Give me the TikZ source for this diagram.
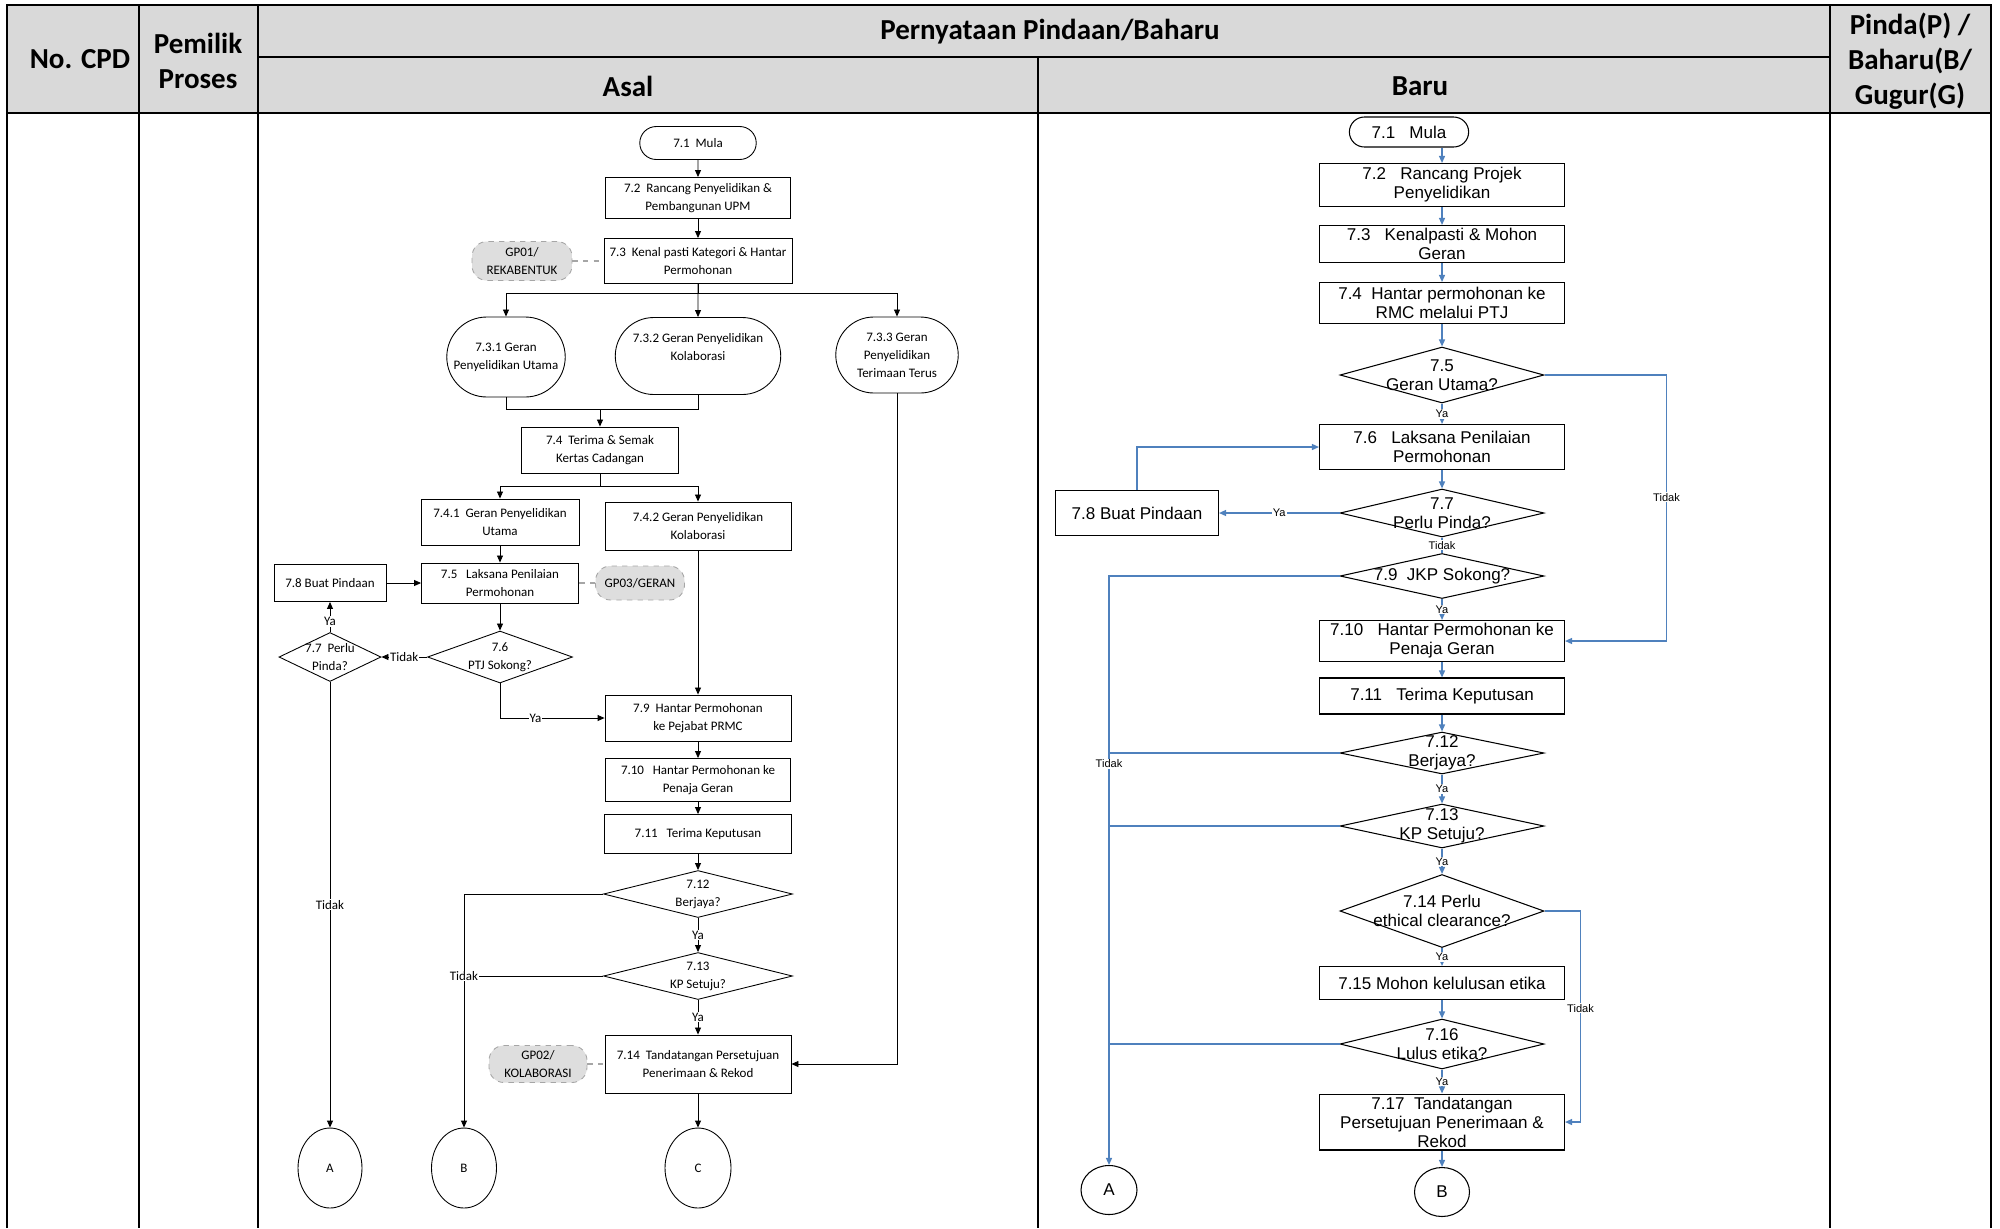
\documentclass[tikz,border=0pt]{standalone}
\usepackage{fontspec}
\usepackage{tikz}
\usetikzlibrary{arrows.meta,shapes.geometric,shapes.misc}

\newfontfamily\calfont{Carlito}
\newfontfamily\arialfont{Liberation Sans}
\newcommand{\hdrfont}{\calfont\bfseries\fontsize{16.5}{19.8}\selectfont}
\newcommand{\asalfont}{\calfont\fontsize{7.4}{10.2}\selectfont}
\newcommand{\barufont}{\arialfont\fontsize{9.7}{10.8}\selectfont}
\newcommand{\blabfont}{\arialfont\fontsize{6.3}{7}\selectfont}
\definecolor{hdrgray}{HTML}{D9D9D9}
\definecolor{gpgray}{HTML}{DEDEDE}
\definecolor{flowblue}{HTML}{4F81BD}

\begin{document}
\begin{tikzpicture}[x=0.02cm, y=-0.02cm, >={Triangle[length=4pt,width=3.4pt]},
  grid/.style={line width=0.055cm},
  hdr/.style={font=\hdrfont, align=center},
  abox/.style={draw, line width=0.5pt, font=\asalfont, align=center, inner sep=1pt},
  aterm/.style={abox, rounded rectangle},
  adec/.style={draw, diamond, line width=0.5pt, inner sep=0pt},
  atxt/.style={font=\asalfont, align=center},
  gpbox/.style={draw=gray!70, dashed, fill=gpgray, rounded corners=0.3cm, font=\asalfont, align=center, inner sep=1pt, line width=0.5pt},
  gpline/.style={draw=gray!70, dashed, line width=0.6pt},
  aconn/.style={ellipse, draw, line width=0.5pt, font=\asalfont, inner sep=0pt},
  aline/.style={line width=0.5pt},
  alab/.style={fill=white, font=\asalfont, inner sep=0.5pt},
  bbox/.style={draw, line width=0.6pt, font=\barufont, align=center, inner sep=1pt, minimum width=4.9cm},
  bdec/.style={draw, diamond, line width=0.6pt, inner sep=0pt, minimum width=4.08cm},
  btxt/.style={font=\barufont, align=center},
  bconn/.style={ellipse, draw, line width=0.6pt, font=\barufont, inner sep=0pt},
  bline/.style={color=flowblue, line width=0.8pt},
  blab/.style={fill=white, text=black, font=\blabfont, inner sep=0.5pt}]
  \useasboundingbox (0,0) rectangle (2000,1228);

  % table
  \fill[hdrgray] (7,5) rectangle (1991,113);
  \draw[grid] (7,1228) -- (7,5) -- (1991,5) -- (1991,1228);
  \draw[grid] (7,113) -- (1991,113);
  \draw[grid] (258,57) -- (1830,57);
  \foreach \x in {139,258,1830}
    \draw[grid] (\x,5) -- (\x,1228);
  \draw[grid] (1038,57) -- (1038,1228);

  \node[hdr] (hcpd)     at (80,59)   {No. CPD};
  \node[hdr] (hpemilik) at (198,61)  {Pemilik\\Proses};
  \node[hdr] (hpern)    at (1050,32) {Pernyataan Pindaan/Baharu};
  \node[hdr] (hasal)    at (628,86)  {Asal};
  \node[hdr] (hbaru)    at (1420,86) {Baru};
  \node[hdr] (hpinda)   at (1910,61) {Pinda(P) /\\Baharu(B/\\Gugur(G)};

  % Asal
  \node[aterm, minimum width=2.4cm, minimum height=0.66cm] (a71) at (698,143) {7.1\ \ Mula};
  \node[abox, minimum width=3.7cm, minimum height=0.82cm] (a72) at (698,198) {7.2\ \ Rancang Penyelidikan \&\\Pembangunan UPM};
  \node[abox, minimum width=3.76cm, minimum height=0.9cm] (a73) at (698,261) {7.3\ \ Kenal pasti Kategori \& Hantar\\Permohonan};
  \node[gpbox, minimum width=2cm, minimum height=0.78cm] (gp01) at (522,261) {GP01/\\REKABENTUK};
  \node[aterm, minimum width=2.44cm, minimum height=1.6cm] (a731) at (506,357) {7.3.1 Geran\\Penyelidikan Utama};
  \node[aterm, minimum width=3.38cm, minimum height=1.54cm] (a732) at (698,356) {7.3.2 Geran Penyelidikan\\Kolaborasi\\\mbox{}};
  \node[aterm, minimum width=2.52cm, minimum height=1.52cm] (a733) at (897,355) {7.3.3 Geran\\Penyelidikan\\Terimaan Terus};
  \node[abox, minimum width=3.14cm, minimum height=0.92cm] (a74) at (600,450) {7.4\ \ Terima \& Semak\\Kertas Cadangan};
  \node[abox, minimum width=3.16cm, minimum height=0.92cm] (a741) at (500,522) {7.4.1\ \ Geran Penyelidikan\\Utama};
  \node[abox, minimum width=3.72cm, minimum height=0.96cm] (a742) at (698,526) {7.4.2 Geran Penyelidikan\\Kolaborasi};
  \node[abox, minimum width=3.14cm, minimum height=0.8cm] (a75) at (500,583) {7.5\ \ \ Laksana Penilaian\\Permohonan};
  \node[abox, minimum width=2.24cm, minimum height=0.74cm] (a78) at (330,583) {7.8 Buat Pindaan};
  \node[gpbox, minimum width=1.78cm, minimum height=0.68cm] (gp03) at (640,583) {GP03/GERAN};
  \node[adec, minimum width=2.9cm, minimum height=1.04cm, label={[atxt]center:{7.6\\PTJ Sokong?}}] (a76) at (500,657) {};
  \node[adec, minimum width=2.04cm, minimum height=0.98cm, label={[atxt]center:{7.7\ \ Perlu\\Pinda?}}] (a77) at (330,657) {};
  \node[abox, minimum width=3.72cm, minimum height=0.92cm] (a79) at (698,718) {7.9\ \ Hantar Permohonan\\ke Pejabat PRMC};
  \node[abox, minimum width=3.7cm, minimum height=0.86cm] (a710) at (698,780) {7.10\ \ \ Hantar Permohonan ke\\Penaja Geran};
  \node[abox, minimum width=3.74cm, minimum height=0.78cm] (a711) at (698,834) {7.11\ \ \ Terima Keputusan};
  \node[adec, minimum width=3.78cm, minimum height=0.94cm, label={[atxt]center:{7.12\\Berjaya?}}] (a712) at (698,894) {};
  \node[adec, minimum width=3.78cm, minimum height=0.94cm, label={[atxt]center:{7.13\\KP Setuju?}}] (a713) at (698,976) {};
  \node[abox, minimum width=3.72cm, minimum height=1.16cm] (a714) at (698,1064) {7.14\ \ Tandatangan Persetujuan\\Penerimaan \& Rekod};
  \node[gpbox, minimum width=1.96cm, minimum height=0.74cm] (gp02) at (538,1064) {GP02/\\KOLABORASI};
  \node[aconn, minimum width=1.28cm, minimum height=1.6cm] (cA) at (330,1168) {A};
  \node[aconn, minimum width=1.3cm, minimum height=1.6cm] (cB) at (464,1168) {B};
  \node[aconn, minimum width=1.32cm, minimum height=1.6cm] (cC) at (698,1168) {C};

  \path[aline, ->]
    (a71) edge (a72)
    (a72) edge (a73)
    (a73) edge (a732)
    (a741) edge (a75)
    (a78) edge (a75)
    (a75) edge (a76)
    (a76) edge node[alab] {Tidak} (a77)
    (a77) edge node[alab, pos=0.35] {Ya} (a78)
    (a742) edge (a79)
    (a79) edge (a710)
    (a710) edge (a711)
    (a711) edge (a712)
    (a712) edge node[alab] {Ya} (a713)
    (a713) edge node[alab] {Ya} (a714)
    (a714) edge (cC)
    (a77) edge node[alab] {Tidak} (cA);
  \draw[aline, ->] (a73.south) -- ++(0,9) -| (a731.north);
  \draw[aline, ->] (a73.south) -- ++(0,9) -| (a733.north);
  \coordinate (amerge) at (600,409);
  \draw[aline] (a731.south) |- (amerge) -| (a732.south);
  \draw[aline, ->] (amerge) -- (a74);
  \draw[aline, ->] (a74.south) -- ++(0,13) -| (a741.north);
  \draw[aline, ->] (a74.south) -- ++(0,13) -| (a742.north);
  \draw[aline, ->] (a76.south) |- node[alab, pos=0.67] {Ya} (a79.west);
  \draw[aline, ->] (a733.south) |- (a714.east);
  \draw[aline, ->] (a712.west) -| (cB.north);
  \draw[aline] (a713.west) -- (a713.west -| cB.north) node[alab] {Tidak};
  \draw[gpline] (gp01) -- (a73);
  \draw[gpline] (gp03) -- (a75);
  \draw[gpline] (gp02) -- (a714);

  % Baru
  \node[draw, rounded rectangle, line width=0.6pt, font=\barufont, minimum width=2.62cm, minimum height=0.6cm] (b71) at (1409,132) {7.1\ \ \ Mula};
  \node[bbox, minimum height=0.86cm] (b72) at (1442,185) {7.2\ \ \ Rancang Projek\\Penyelidikan};
  \node[bbox, minimum height=0.74cm] (b73) at (1442,244) {7.3\ \ \ Kenalpasti \& Mohon\\Geran};
  \node[bbox, minimum height=0.82cm] (b74) at (1442,303) {7.4\ \ Hantar permohonan ke\\RMC melalui PTJ};
  \node[bdec, minimum height=1.12cm, label={[btxt]center:{7.5\\Geran Utama?}}] (b75) at (1442,375) {};
  \node[bbox, minimum height=0.9cm] (b76) at (1442,447) {7.6\ \ \ Laksana Penilaian\\Permohonan};
  \node[bdec, minimum height=0.96cm, label={[btxt]center:{7.7\\Perlu Pinda?}}] (b77) at (1442,513) {};
  \node[bbox, minimum width=3.26cm, minimum height=0.9cm] (b78) at (1137,513) {7.8 Buat Pindaan};
  \node[bdec, minimum height=0.9cm, label={[btxt]center:{7.9\ \ JKP Sokong?}}] (b79) at (1442,576) {};
  \node[bbox, minimum height=0.82cm] (b710) at (1442,641) {7.10\ \ \ Hantar Permohonan ke\\Penaja Geran};
  \node[bbox, minimum height=0.72cm] (b711) at (1442,696) {7.11\ \ \ Terima Keputusan};
  \node[bdec, minimum height=0.84cm, label={[btxt]center:{7.12\\Berjaya?}}] (b712) at (1442,753) {};
  \node[bdec, minimum height=0.88cm, label={[btxt]center:{7.13\\KP Setuju?}}] (b713) at (1442,826) {};
  \node[bdec, minimum height=1.46cm, label={[btxt]center:{7.14 Perlu\\ethical clearance?}}] (b714) at (1442,911) {};
  \node[bbox, minimum height=0.66cm] (b715) at (1442,983) {7.15 Mohon kelulusan etika};
  \node[bdec, minimum height=1cm, label={[btxt]center:{7.16\\Lulus etika?}}] (b716) at (1442,1044) {};
  \node[bbox, minimum height=1.12cm] (b717) at (1442,1122) {7.17\ \ Tandatangan\\Persetujuan Penerimaan \&\\Rekod};
  \node[bconn, minimum width=1.12cm, minimum height=0.98cm] (rA) at (1109,1190) {A};
  \node[bconn, minimum width=1.1cm, minimum height=0.98cm] (rB) at (1442,1192) {B};

  \draw[bline, ->] (b72.north |- b71.south) -- (b72.north);
  \path[bline, ->]
    (b72) edge (b73)
    (b73) edge (b74)
    (b74) edge (b75)
    (b75) edge node[blab] {Ya} (b76)
    (b76) edge (b77)
    (b77) edge node[blab] {Ya} (b78)
    (b79) edge node[blab] {Ya} (b710)
    (b710) edge (b711)
    (b711) edge (b712)
    (b712) edge node[blab] {Ya} (b713)
    (b713) edge node[blab] {Ya} (b714)
    (b714) edge node[blab] {Ya} (b715)
    (b715) edge (b716)
    (b716) edge node[blab] {Ya} (b717)
    (b717) edge (rB);
  \draw[bline] (b77) -- node[blab] {Tidak} (b79);
  \draw[bline, ->] (b78.north) |- (b76.west);
  \draw[bline, ->] (b75.east) -- ++(122,0) |- node[blab, pos=0.23] {Tidak} (b710.east);
  \draw[bline, ->] (b714.east) -- ++(36,0) |- node[blab, pos=0.23] {Tidak} (b717.east);
  \draw[bline, ->] (b79.west) -| (rA.north);
  \draw[bline] (b712.west) -- (b712.west -| rA.north) node[blab, anchor=north, yshift=-3pt] {Tidak};
  \draw[bline] (b713.west) -- (b713.west -| rA.north);
  \draw[bline] (b716.west) -- (b716.west -| rA.north);
\end{tikzpicture}
\end{document}
